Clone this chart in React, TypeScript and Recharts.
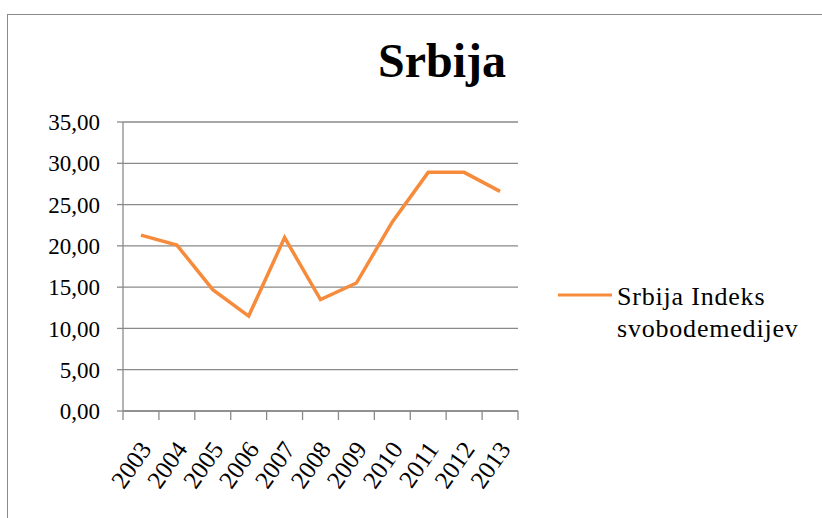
import React from 'react';
import { LineChart, Line, XAxis, YAxis, CartesianGrid } from 'recharts';

const years = ['2003', '2004', '2005', '2006', '2007', '2008', '2009', '2010', '2011', '2012', '2013'];
const indeks = [21.3, 20.1, 14.7, 11.5, 21.0, 13.5, 15.5, 22.9, 28.9, 28.9, 26.6];
const yTicks = [0, 5, 10, 15, 20, 25, 30, 35];
const legendLines = ['Srbija Indeks', 'svobodemedijev'];

const data = years.map((year, i) => ({ year, value: indeks[i] }));

const FONT = '"Liberation Serif", "Times New Roman", serif';
const ORANGE = '#F68B3C';
const GREY = '#8a8a8a';

// Excel style: tick marks sit between the categories, not under them
const YearTick = (props: any) => {
  const { x, y, payload, index, visibleTicksCount, width } = props;
  const half = width / visibleTicksCount / 2;
  const tx = x - 3;
  const ty = y + 28;
  return (
    <g>
      <line x1={x - half} x2={x - half} y1={y} y2={y + 9} stroke={GREY} strokeWidth={1.3} />
      {index === visibleTicksCount - 1 && (
        <line x1={x + half} x2={x + half} y1={y} y2={y + 9} stroke={GREY} strokeWidth={1.3} />
      )}
      <text
        x={tx}
        y={ty}
        dy="0.71em"
        textAnchor="end"
        transform={`rotate(-55, ${tx}, ${ty})`}
        fontFamily={FONT}
        fontSize={25}
        fill="#000"
      >
        {payload.value}
      </text>
    </g>
  );
};

const LegendBox = () => (
  <svg width={260} height={80}>
    <line x1={8} y1={25} x2={62} y2={25} stroke={ORANGE} strokeWidth={3} />
    {legendLines.map((t, i) => (
      <text key={t} x={67} y={35 + i * 32} fontFamily={FONT} fontSize={26} letterSpacing={0.8} fill="#000">
        {t}
      </text>
    ))}
  </svg>
);

export default function App() {
  return (
    <div style={{ position: 'absolute', left: 0, top: 0, width: 822, height: 518, overflow: 'hidden', background: '#fff' }}>
      <div
        style={{
          position: 'absolute',
          left: 7,
          top: 14,
          width: 830,
          height: 520,
          border: `1px solid ${GREY}`,
        }}
      />
      <div
        style={{
          position: 'absolute',
          left: 342,
          top: 28,
          width: 200,
          textAlign: 'center',
          fontFamily: FONT,
          fontWeight: 'bold',
          fontSize: 48,
          lineHeight: '66px',
        }}
      >
        Srbija
      </div>
      <div style={{ position: 'absolute', left: 0, top: 0 }}>
        <LineChart width={822} height={518} data={data} margin={{ top: 122, right: 304, bottom: 27, left: 43 }}>
          <CartesianGrid vertical={false} stroke={GREY} strokeWidth={1.3} />
          <XAxis
            dataKey="year"
            scale="band"
            height={80}
            axisLine={{ stroke: GREY, strokeWidth: 1.3 }}
            tickLine={false}
            tickSize={0}
            tickMargin={0}
            interval={0}
            tick={<YearTick />}
          />
          <YAxis
            width={80}
            domain={[0, 35]}
            ticks={yTicks}
            interval={0}
            tickFormatter={(v: number) => v.toFixed(2).replace('.', ',')}
            axisLine={{ stroke: GREY, strokeWidth: 1.3 }}
            tickLine={{ stroke: GREY, strokeWidth: 1.3 }}
            tickSize={6}
            tickMargin={17}
            tick={{ fontFamily: FONT, fontSize: 23, fill: '#000' }}
          />
          <Line
            type="linear"
            dataKey="value"
            name="Srbija Indeks svobodemedijev"
            stroke={ORANGE}
            strokeWidth={3.5}
            dot={false}
            isAnimationActive={false}
          />
        </LineChart>
      </div>
      <div style={{ position: 'absolute', left: 550, top: 270 }}>
        <LegendBox />
      </div>
    </div>
  );
}
